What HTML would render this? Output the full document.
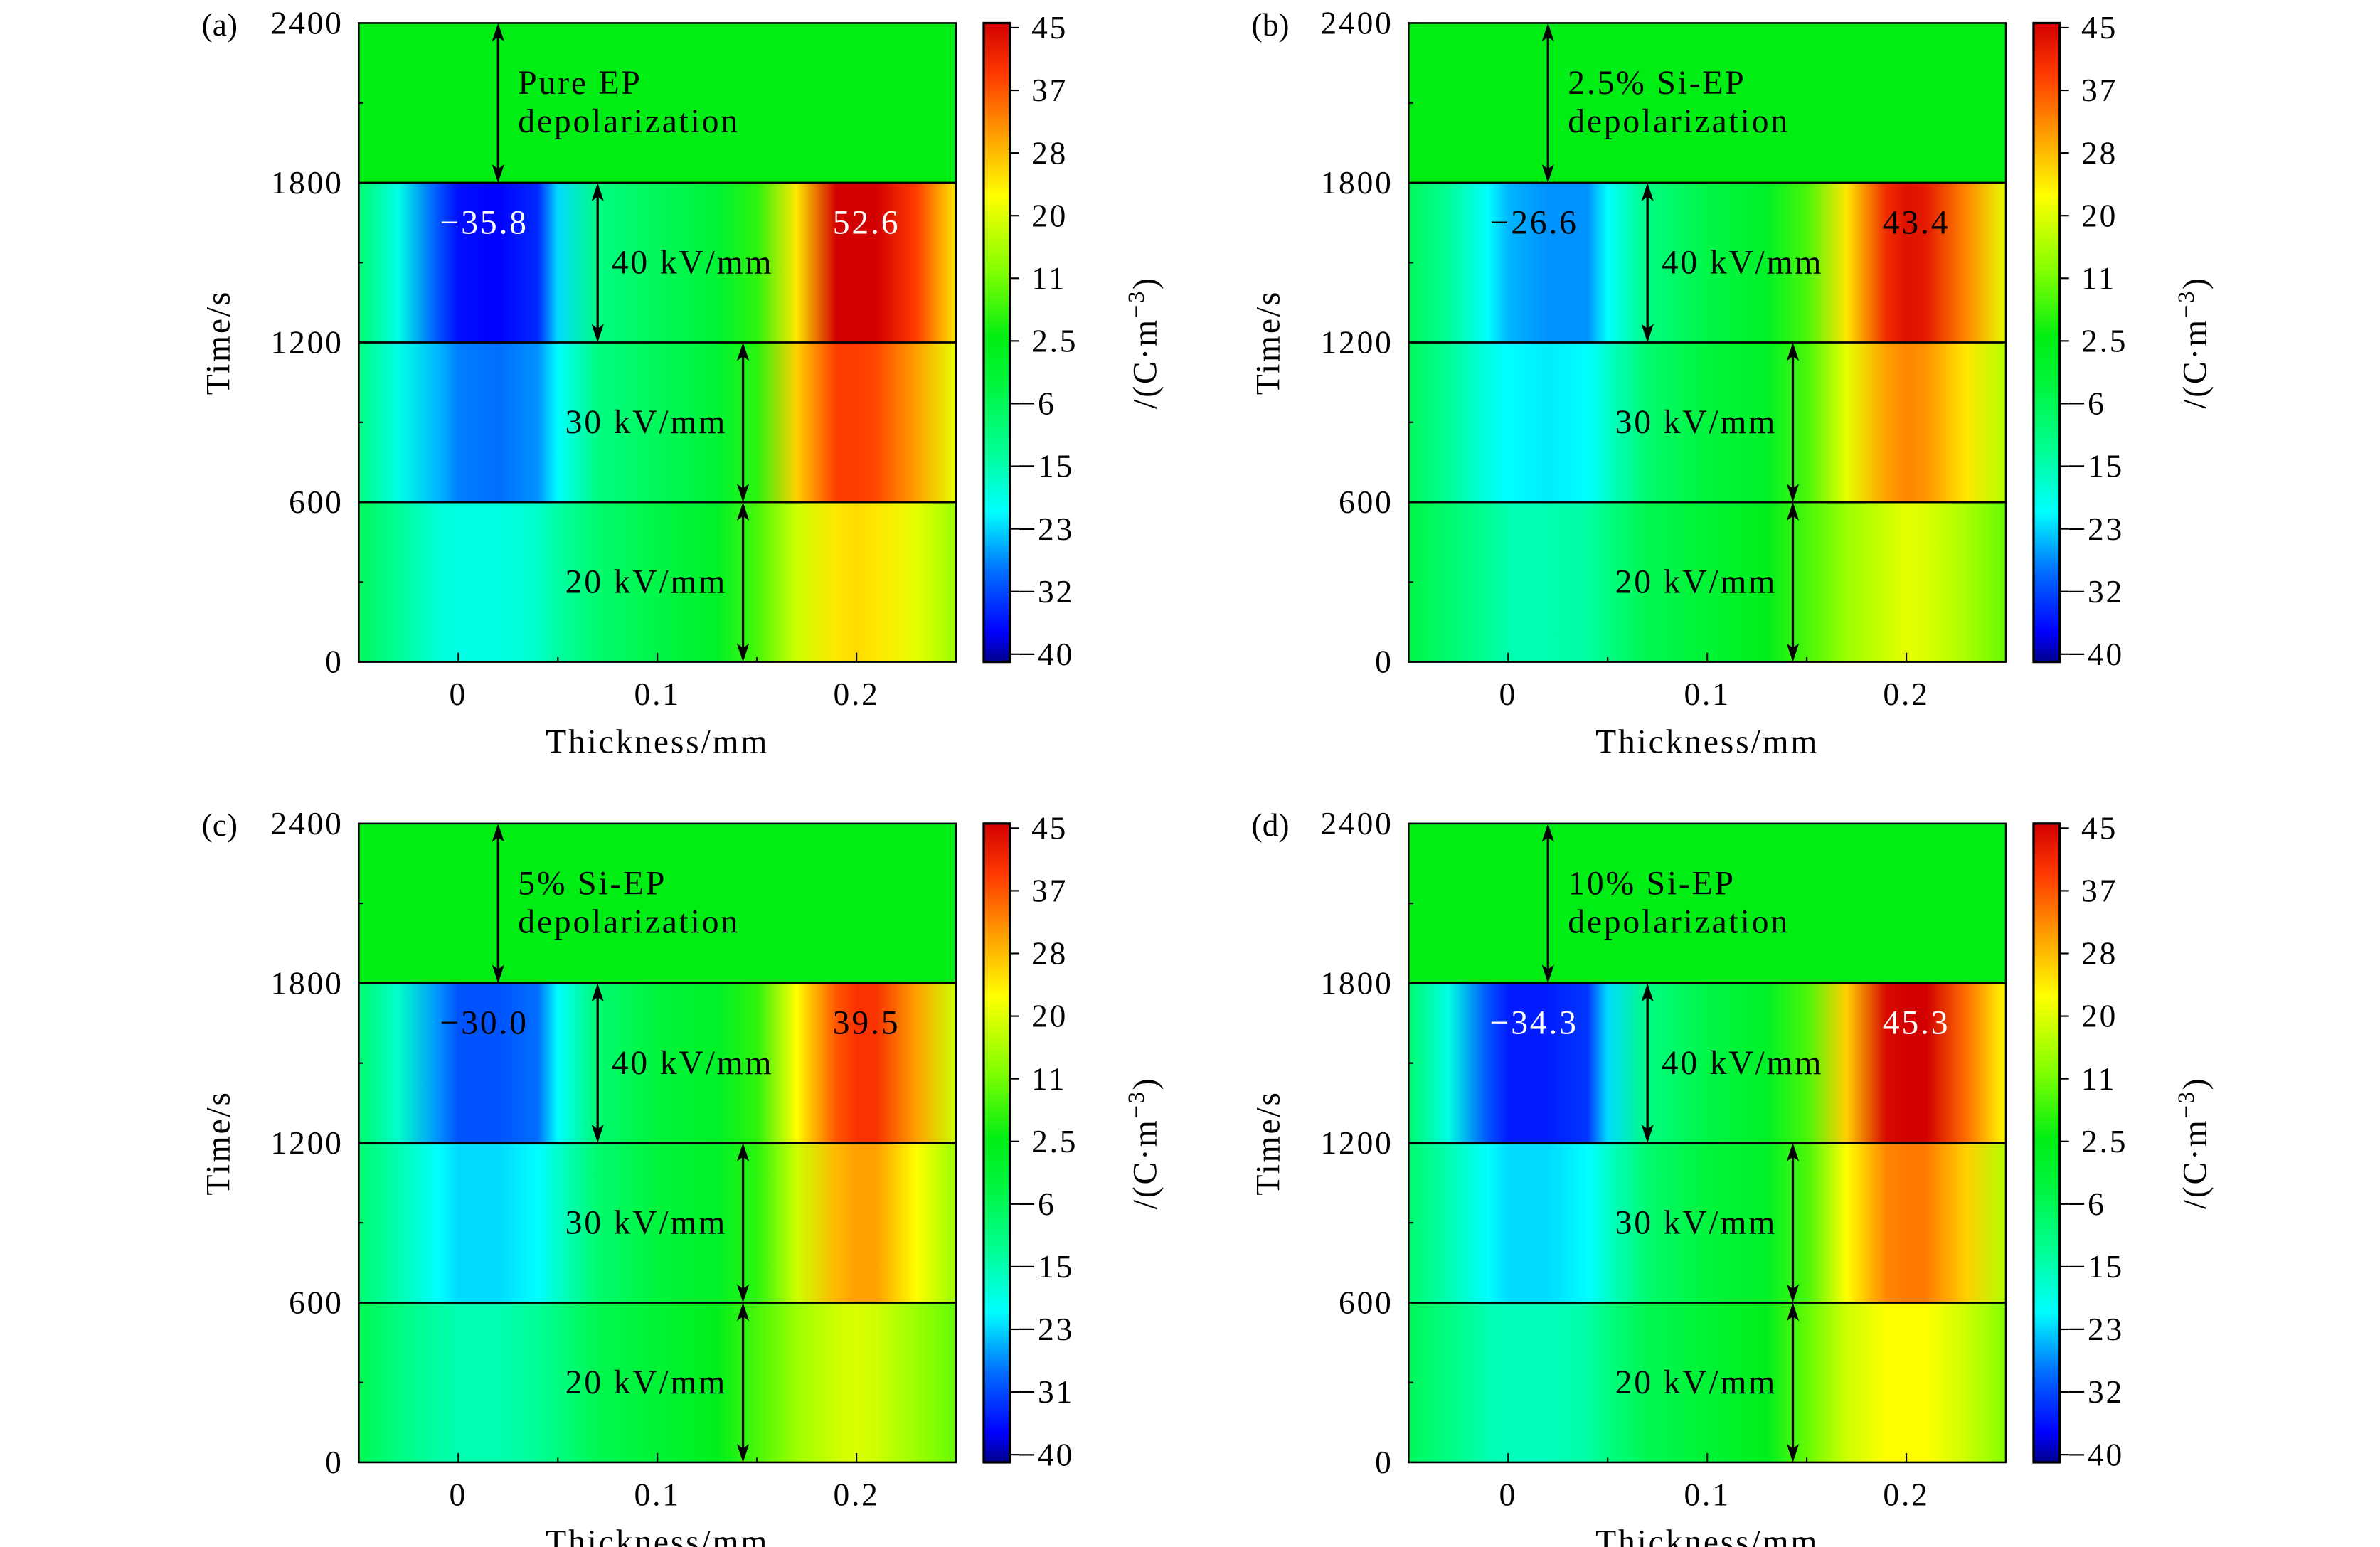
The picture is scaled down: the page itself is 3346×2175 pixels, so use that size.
<!DOCTYPE html>
<html><head><meta charset="utf-8"><style>
html,body{margin:0;padding:0;background:#fff}
svg{display:block}
text{font-family:"Liberation Serif",serif;fill:#000}
</style></head><body>
<svg id="fig" width="3346" height="2175" viewBox="0 0 1546 1005" xmlns="http://www.w3.org/2000/svg"></svg>
<script>
// ---- data ----
const thickness = [-0.05,-0.03,-0.01,0,0.02,0.04,0.05,0.07,0.1,0.13,0.15,0.17,0.19,0.2,0.21,0.23,0.25];
const timeBands = [[1800,2400],[1200,1800],[600,1200],[0,600]];
const depolValues = [3,3,3,3,3,3,3,3,3,3,3,3,3,3,3,3,3];
const aBand40 = [-8,-18,-30,-35,-36,-33,-22,-10,-6,-2,6,24,50,52,52,38,24];
const aBand30 = [-10,-18,-24,-27,-28,-26,-20,-10,-6,-2,6,26,38,38,37,30,20];
const aBand20 = [-6,-12,-17,-18,-18,-16,-13,-8,-4,0,8,18,24,25,24,20,14];
const bBand40 = [-6,-12,-20,-24,-26,-26,-20,-10,-4,0,8,24,40,43,42,32,20];
const bBand30 = [-6,-12,-18,-20,-21,-20,-16,-8,-3,0,8,20,30,32,31,24,16];
const bBand20 = [-4,-8,-12,-14,-14,-13,-10,-5,-2,2,8,14,18,20,19,15,10];
const cBand40 = [-8,-16,-26,-30,-30,-28,-20,-8,-3,0,6,22,36,39,39,30,18];
const cBand30 = [-8,-14,-20,-22,-22,-20,-16,-8,-3,0,6,18,28,30,30,22,14];
const cBand20 = [-5,-10,-13,-14,-14,-12,-10,-5,-2,2,8,14,18,19,18,14,10];
const dBand40 = [-8,-18,-30,-34,-34,-32,-22,-10,-4,0,8,26,44,45,45,34,22];
const dBand30 = [-8,-14,-20,-22,-22,-20,-16,-8,-3,0,8,22,32,33,33,26,16];
const dBand20 = [-6,-10,-14,-15,-15,-13,-10,-5,-2,2,10,18,22,22,22,18,12];
const panelLetters = ["(a)","(b)","(c)","(d)"];
const materialNames = ["Pure EP","2.5% Si-EP","5% Si-EP","10% Si-EP"];
const negPeakLabels = ["\u221235.8","\u221226.6","\u221230.0","\u221234.3"];
const posPeakLabels = ["52.6","43.4","39.5","45.3"];
const peakLabelColors = ["#fff","#000","#000","#fff"];
const yTicks = [0,600,1200,1800,2400];
const xTicks = [0,0.1,0.2];
const xTickLabels = ["0","0.1","0.2"];
const cbarLabelsA = ["45","37","28","20","11","2.5","\u22126","\u221215","\u221223","\u221232","\u221240"];
const cbarLabelsC = ["45","37","28","20","11","2.5","\u22126","\u221215","\u221223","\u221231","\u221240"];
const cmap = [[-40,0,0,140],[-36,0,0,255],[-28,0,110,255],[-20,0,255,255],[-12,0,255,150],[-3,0,245,60],[3,0,238,20],[12,130,255,0],[22,255,255,0],[30,255,160,0],[38,255,60,0],[45,210,0,0]];
const panelsData = [
 [depolValues,aBand40,aBand30,aBand20],
 [depolValues,bBand40,bBand30,bBand20],
 [depolValues,cBand40,cBand30,cBand20],
 [depolValues,dBand40,dBand30,dBand20]];
const cbarLabelSets=[cbarLabelsA,cbarLabelsA,cbarLabelsC,cbarLabelsA];

// ---- layout ----
const NS="http://www.w3.org/2000/svg";
const svg=document.getElementById('fig');
const offsets=[[0,0],[682,0],[0,520],[682,520]];
const PL=233,PR=621,PT=15,PB=430;
const xS=v=>PL+(v+0.05)/0.30*(PR-PL);
const yS=v=>PB-v/2400*(PB-PT);
const LS='letter-spacing:1.3px';
function col(v){
  if(v<=cmap[0][0]) return `rgb(${cmap[0][1]},${cmap[0][2]},${cmap[0][3]})`;
  for(let i=1;i<cmap.length;i++){ if(v<=cmap[i][0]){const a=cmap[i-1],b=cmap[i],t=(v-a[0])/(b[0]-a[0]);
    return `rgb(${Math.round(a[1]+t*(b[1]-a[1]))},${Math.round(a[2]+t*(b[2]-a[2]))},${Math.round(a[3]+t*(b[3]-a[3]))})`;}}
  const l=cmap[cmap.length-1];return `rgb(${l[1]},${l[2]},${l[3]})`;
}
function el(tag,attrs,parent,txt){const e=document.createElementNS(NS,tag);for(const k in attrs)e.setAttribute(k,attrs[k]);if(txt!==undefined)e.textContent=txt;(parent||svg).appendChild(e);return e;}
const defs=el('defs',{});
const cg=el('linearGradient',{id:'cbg',x1:0,y1:1,x2:0,y2:0},defs);
cmap.forEach(s=>el('stop',{offset:((s[0]+40)/85).toFixed(4),'stop-color':col(s[0])},cg));

function arrowHead(g,x,y,dir){ // dir 1 = pointing down, -1 = up
  el('path',{d:`M${x},${y} L${x-4},${y-dir*12} L${x},${y-dir*9} L${x+4},${y-dir*12} Z`,fill:'#000'},g);
}

panelsData.forEach((bands,p)=>{
  const [dx,dy]=offsets[p];
  const g=el('g',{transform:`translate(${dx},${dy})`});
  
  
  bands.forEach((vals,b)=>{
    const gid='grad'+p+'_'+b;
    const lg=el('linearGradient',{id:gid,gradientUnits:'userSpaceOnUse',x1:PL,y1:0,x2:PR,y2:0},defs);
    thickness.forEach((t,i)=>el('stop',{offset:((xS(t)-PL)/(PR-PL)).toFixed(4),'stop-color':col(vals[i])},lg));
    const [t0,t1]=timeBands[b];
    const r=el('rect',{x:PL,y:yS(t1),width:PR-PL,height:yS(t0)-yS(t1),fill:`url(#${gid})`},g);
    
    
  });
  [600,1200,1800].forEach(t=>el('line',{x1:PL,x2:PR,y1:yS(t),y2:yS(t),stroke:'#000','stroke-width':1.3},g));
  el('rect',{x:PL,y:PT,width:PR-PL,height:PB-PT,fill:'none',stroke:'#000','stroke-width':1.2},g);
  yTicks.forEach(t=>{el('line',{x1:PL,x2:PL+6,y1:yS(t),y2:yS(t),stroke:'#000'},g);
    const tx=el('text',{x:PL-10,y:yS(t)+7,'text-anchor':'end','font-size':21,style:LS},g,String(t));
    });
  [300,900,1500,2100].forEach(t=>el('line',{x1:PL,x2:PL+3,y1:yS(t),y2:yS(t),stroke:'#000'},g));
  xTicks.forEach((t,i)=>{el('line',{x1:xS(t),x2:xS(t),y1:PB,y2:PB-6,stroke:'#000'},g);
    const tx=el('text',{x:xS(t),y:PB+28,'text-anchor':'middle','font-size':21,style:LS},g,xTickLabels[i]);
    });
  [0.05,0.15].forEach(t=>el('line',{x1:xS(t),x2:xS(t),y1:PB,y2:PB-3,stroke:'#000'},g));
  const yt=el('text',{x:0,y:0,'text-anchor':'middle','font-size':22,style:LS,transform:`translate(149,${(PT+PB)/2}) rotate(-90)`},g,'Time/s');
  
  const xt=el('text',{x:xS(0.1),y:PB+59,'text-anchor':'middle','font-size':22,style:LS},g,'Thickness/mm');
  
  const pl=el('text',{x:131,y:PT+8,'font-size':21},g,panelLetters[p]);
  
  const arrows=[[0.02,2400,1800],[0.07,1800,1200],[0.143,1200,600],[0.143,600,0]];
  arrows.forEach(a=>{const x=xS(a[0]),y1=yS(a[1]),y2=yS(a[2]);
    const ln=el('line',{x1:x,x2:x,y1:y1+4,y2:y2-4,stroke:'#000','stroke-width':1.5},g);
    
    arrowHead(g,x,y1,-1);arrowHead(g,x,y2,1);});
  const ann=[[materialNames[p],xS(0.03),PT+46,'start'],['depolarization',xS(0.03),PT+71,'start'],['40 kV/mm',xS(0.077),yS(1500)+7,'start'],['30 kV/mm',xS(0.135),yS(900)+7,'end'],['20 kV/mm',xS(0.135),yS(300)+7,'end']];
  ann.forEach(a=>{const t=el('text',{x:a[1],y:a[2],'font-size':22,'text-anchor':a[3],style:LS},g,a[0]);
    });
  const np=el('text',{x:xS(0.013),y:yS(1650)+7,'font-size':22,'text-anchor':'middle',style:LS+';fill:'+peakLabelColors[p]},g,negPeakLabels[p]);
  
  const pp=el('text',{x:xS(0.205),y:yS(1650)+7,'font-size':22,'text-anchor':'middle',style:LS+';fill:'+peakLabelColors[p]},g,posPeakLabels[p]);
  
  const CL=639,CR=656;
  const cb=el('rect',{x:CL,y:PT,width:CR-CL,height:PB-PT,fill:'url(#cbg)',stroke:'#000','stroke-width':1.5},g);
  
  const labs=cbarLabelSets[p];
  labs.forEach((l,i)=>{const y=PT+3+i*(PB-PT-8)/(labs.length-1);
    el('line',{x1:CR,x2:CR+6,y1:y,y2:y,stroke:'#000'},g);
    const t=el('text',{x:l.startsWith('\u2212')?661:670,y:y+7,'font-size':21,style:LS},g,l);
    });
  const ct=el('text',{x:0,y:0,'text-anchor':'middle','font-size':22,style:LS,transform:`translate(751,${(PT+PB)/2}) rotate(-90)`},g);
  
  ct.appendChild(document.createTextNode('/(C\u00b7m'));
  el('tspan',{dy:-8,'font-size':15},ct,'\u22123');
  el('tspan',{dy:8},ct,')');
});
</script>
</body></html>
